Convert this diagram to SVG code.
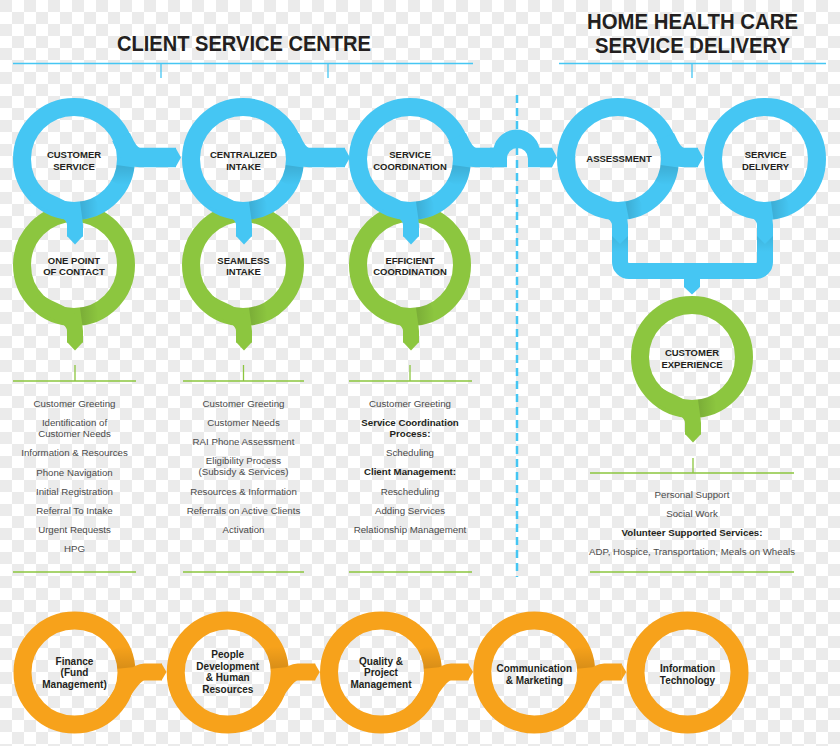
<svg xmlns="http://www.w3.org/2000/svg" width="840" height="746" viewBox="0 0 840 746">
<defs>
<pattern id="chk" width="24" height="24" patternUnits="userSpaceOnUse">
<rect width="24" height="24" fill="#ffffff"/>
<rect width="12" height="12" fill="#ebebeb"/>
<rect x="12" y="12" width="12" height="12" fill="#ebebeb"/>
</pattern>
<linearGradient id="shB" x1="0" y1="0" x2="0" y2="1"><stop offset="0" stop-color="#000" stop-opacity="0.12"/><stop offset="1" stop-color="#000" stop-opacity="0"/></linearGradient>
<linearGradient id="shT" x1="0" y1="0" x2="1" y2="0"><stop offset="0" stop-color="#000" stop-opacity="0.12"/><stop offset="1" stop-color="#000" stop-opacity="0"/></linearGradient>
<linearGradient id="shO" x1="0" y1="1" x2="0" y2="0"><stop offset="0" stop-color="#000" stop-opacity="0.12"/><stop offset="1" stop-color="#000" stop-opacity="0"/></linearGradient>
<linearGradient id="shV" x1="0" y1="0" x2="0" y2="1"><stop offset="0" stop-color="#000" stop-opacity="0.09"/><stop offset="1" stop-color="#000" stop-opacity="0"/></linearGradient>
<style>
.rb{fill:none;stroke:#45c6f3;stroke-width:18}
.rg{fill:none;stroke:#8cc63f;stroke-width:18}
.ro{fill:none;stroke:#f7a21b;stroke-width:18}
.sh{fill:none;stroke-width:18}
.bb{fill:none;stroke:#45c6f3;stroke-width:19.5}
.tb{fill:none;stroke:#45c6f3;stroke-width:16}
.tg{fill:none;stroke:#8cc63f;stroke-width:16}
.bo{fill:none;stroke:#f7a21b;stroke-width:17}
.fb{fill:#45c6f3}
.fg{fill:#8cc63f}
.fo{fill:#f7a21b}
.lbl{font-family:"Liberation Sans",Arial,sans-serif;font-weight:bold;font-size:9.5px;fill:#231f20;text-anchor:middle}
.olbl{font-family:"Liberation Sans",Arial,sans-serif;font-weight:bold;font-size:10px;fill:#231f20;text-anchor:middle}
.lst{font-family:"Liberation Sans",Arial,sans-serif;font-size:9.7px;fill:#4a4a4a;text-anchor:middle}
.lstb{font-weight:bold;fill:#231f20}
.ttl{font-family:"Liberation Sans",Arial,sans-serif;font-weight:bold;font-size:21.5px;fill:#231f20;text-anchor:middle}
.hl{stroke:#45c6f3;stroke-width:1.3;fill:none}
.gl{stroke:#8cc63f;stroke-width:1.3;fill:none}
</style>
</defs>
<rect width="840" height="746" fill="url(#chk)"/>

<g id="headers">
<text class="ttl" x="244" y="51" textLength="254" lengthAdjust="spacingAndGlyphs">CLIENT SERVICE CENTRE</text>
<text class="ttl" x="692.5" y="28.5" textLength="211" lengthAdjust="spacingAndGlyphs">HOME HEALTH CARE</text>
<text class="ttl" x="692.5" y="52.5" textLength="195" lengthAdjust="spacingAndGlyphs">SERVICE DELIVERY</text>
<path class="hl" d="M13,63.5 H473 M161,63.5 V78 M328,63.5 V78 M559,63.5 H826 M692,63.5 V78"/>
</g>

<line x1="517" y1="95" x2="517" y2="577" stroke="#45c6f3" stroke-width="2.5" stroke-dasharray="8,5"/>

<!-- green nodes -->
<g id="one-point-of-contact">
<circle class="rg" cx="74" cy="265" r="52"/>
<path class="sh" stroke="url(#shT)" d="M81.2,316.5 A52,52 0 0 0 98.4,310.9"/>
<text class="lbl" x="74" y="263.5">ONE POINT</text>
<text class="lbl" x="74" y="275">OF CONTACT</text>
</g>
<g id="seamless-intake">
<circle class="rg" cx="243" cy="265" r="52"/>
<path class="sh" stroke="url(#shT)" d="M250.2,316.5 A52,52 0 0 0 267.4,310.9"/>
<text class="lbl" x="243.5" y="263.5">SEAMLESS</text>
<text class="lbl" x="243.5" y="275">INTAKE</text>
</g>
<g id="efficient-coordination">
<circle class="rg" cx="410" cy="265" r="52"/>
<path class="sh" stroke="url(#shT)" d="M417.2,316.5 A52,52 0 0 0 434.4,310.9"/>
<text class="lbl" x="410" y="263.5">EFFICIENT</text>
<text class="lbl" x="410" y="275">COORDINATION</text>
</g>
<g id="customer-experience">
<circle class="rg" cx="692" cy="357" r="52"/>
<path class="sh" stroke="url(#shT)" d="M699.2,408.5 A52,52 0 0 0 716.4,402.9"/>
<text class="lbl" x="692" y="355.5">CUSTOMER</text>
<text class="lbl" x="692" y="367.5">EXPERIENCE</text>
</g>

<!-- blue nodes -->
<g id="customer-service">
<circle class="rb" cx="74" cy="159" r="52"/>
<path class="sh" stroke="url(#shB)" d="M125.5,166.2 A52,52 0 0 1 119,185"/>
<path class="sh" stroke="url(#shT)" d="M81.2,210.5 A52,52 0 0 0 98.4,204.9"/>
<text class="lbl" x="74" y="157.5">CUSTOMER</text>
<text class="lbl" x="74" y="169.5">SERVICE</text>
</g>
<g id="centralized-intake">
<circle class="rb" cx="243" cy="159" r="52"/>
<path class="sh" stroke="url(#shB)" d="M294.5,166.2 A52,52 0 0 1 288,185"/>
<path class="sh" stroke="url(#shT)" d="M250.2,210.5 A52,52 0 0 0 267.4,204.9"/>
<text class="lbl" x="243.5" y="157.5">CENTRALIZED</text>
<text class="lbl" x="243.5" y="169.5">INTAKE</text>
</g>
<g id="service-coordination">
<circle class="rb" cx="410" cy="159" r="52"/>
<path class="sh" stroke="url(#shB)" d="M461.5,166.2 A52,52 0 0 1 455,185"/>
<path class="sh" stroke="url(#shT)" d="M417.2,210.5 A52,52 0 0 0 434.4,204.9"/>
<text class="lbl" x="410" y="157.5">SERVICE</text>
<text class="lbl" x="410" y="169.5">COORDINATION</text>
</g>
<g id="assessment">
<circle class="rb" cx="618" cy="159" r="52"/>
<path class="sh" stroke="url(#shB)" d="M669.5,166.2 A52,52 0 0 1 663,185"/>
<path class="sh" stroke="url(#shT)" d="M627.2,210.5 A52,52 0 0 0 642.4,204.9"/>
<text class="lbl" x="619" y="161.5">ASSESSMENT</text>
</g>
<g id="service-delivery">
<circle class="rb" cx="765" cy="159" r="52"/>
<path class="sh" stroke="url(#shT)" d="M772.2,210.5 A52,52 0 0 0 789.4,204.9"/>
<text class="lbl" x="765.5" y="157.5">SERVICE</text>
<text class="lbl" x="765.5" y="169.5">DELIVERY</text>
</g>

<!-- orange nodes -->
<g id="finance">
<circle class="ro" cx="74.5" cy="672.5" r="52"/>
<path class="sh" stroke="url(#shO)" d="M119.5,646.5 A52,52 0 0 1 126.3,667.9"/>
<text class="olbl" x="74.5" y="664.5">Finance</text>
<text class="olbl" x="74.5" y="676">(Fund</text>
<text class="olbl" x="74.5" y="687.5">Management)</text>
</g>
<g id="people-development">
<circle class="ro" cx="227.75" cy="672.5" r="52"/>
<path class="sh" stroke="url(#shO)" d="M272.75,646.5 A52,52 0 0 1 279.55,667.9"/>
<text class="olbl" x="227.75" y="657.5">People</text>
<text class="olbl" x="227.75" y="669.5">Development</text>
<text class="olbl" x="227.75" y="680.5">&amp; Human</text>
<text class="olbl" x="227.75" y="692.5">Resources</text>
</g>
<g id="quality-project-management">
<circle class="ro" cx="381" cy="672.5" r="52"/>
<path class="sh" stroke="url(#shO)" d="M426,646.5 A52,52 0 0 1 432.8,667.9"/>
<text class="olbl" x="381" y="664.5">Quality &amp;</text>
<text class="olbl" x="381" y="676">Project</text>
<text class="olbl" x="381" y="687.5">Management</text>
</g>
<g id="communication-marketing">
<circle class="ro" cx="534.25" cy="672.5" r="52"/>
<path class="sh" stroke="url(#shO)" d="M579.25,646.5 A52,52 0 0 1 586.05,667.9"/>
<text class="olbl" x="534.25" y="671.5">Communication</text>
<text class="olbl" x="534.25" y="683.5">&amp; Marketing</text>
</g>
<g id="information-technology">
<circle class="ro" cx="687.5" cy="672.5" r="52"/>
<text class="olbl" x="687.5" y="671.5">Information</text>
<text class="olbl" x="687.5" y="683.5">Technology</text>
</g>

<g id="connectors">
<!-- blue horizontal bands -->
<path class="bb" d="M121.1,137 C124.9,145.2 129,157.5 140,157.5 L176,157.5"/>
<polygon class="fb" points="175.5,147.75 181,157.5 175.5,167.25"/>
<path class="bb" d="M290.1,137 C293.9,145.2 298,157.5 309,157.5 L345,157.5"/>
<polygon class="fb" points="344.5,147.75 350,157.5 344.5,167.25"/>
<path class="bb" d="M457.1,137 C460.9,145.2 465,157.5 476,157.5 L494,157.5"/>
<path class="fb" d="M490,147.75 L493.6,147.75 A23.5,23.5 0 0 1 539.4,147.75 L552,147.75 L557,157.5 L552,167.25 L528,167.25 L528,158.5 A10.5,10.5 0 0 0 507,158.5 L507,167.25 L490,167.25 Z"/>
<path class="bb" d="M665.1,137 C668.9,145.2 673,157.5 684,157.5 L698,157.5"/>
<polygon class="fb" points="697.5,147.75 703,157.5 697.5,167.25"/>
<!-- blue tails into green -->
<path class="tb" d="M34.2,192.4 C44.5,204.7 75,207 75,225 L75,236.5"/>
<polygon class="fb" points="67,236 75,244.5 83,236"/>
<path class="tb" d="M203.2,192.4 C213.5,204.7 244,207 244,225 L244,236.5"/>
<polygon class="fb" points="236,236 244,244.5 252,236"/>
<path class="tb" d="M370.2,192.4 C380.5,204.7 411,207 411,225 L411,236.5"/>
<polygon class="fb" points="403,236 411,244.5 419,236"/>
<!-- assessment / delivery to customer experience -->
<path class="tb" d="M578.2,192.4 C588.5,204.7 620,207 620,225 L620,245"/>
<path class="tb" d="M725.2,192.4 C735.5,204.7 765,207 765,225 L765,245"/>
<path class="tb" d="M620,240 L620,262 A9,9 0 0 0 629,271 L756,271 A9,9 0 0 0 765,262 L765,240"/>
<path fill="url(#shV)" d="M612,236 L620,244 L628,236 L628,252 L612,252 Z"/>
<path fill="url(#shV)" d="M757,236 L765,244 L773,236 L773,252 L757,252 Z"/>
<polygon class="fb" points="684,277 700,277 700,287 692,294.5 684,287"/>
<!-- green tails -->
<path class="tg" d="M34.2,298.4 C44.5,310.7 75,313 75,331 L75,342.5"/>
<polygon class="fg" points="67,342 75,350.5 83,342"/>
<path class="tg" d="M203.2,298.4 C213.5,310.7 244,313 244,331 L244,342.5"/>
<polygon class="fg" points="236,342 244,350.5 252,342"/>
<path class="tg" d="M370.2,298.4 C380.5,310.7 411,313 411,331 L411,342.5"/>
<polygon class="fg" points="403,342 411,350.5 419,342"/>
<path class="tg" d="M652.2,390.4 C662.5,402.7 693,405 693,423 L693,434.5"/>
<polygon class="fg" points="685,434 693,442.5 701,434"/>
<!-- orange bands -->
<path class="bo" d="M107.9,712.3 C118.6,703.3 130.5,672 144.5,672 L162,672"/>
<polygon class="fo" points="161.5,663.5 166.5,672 161.5,680.5"/>
<path class="bo" d="M261.15,712.3 C271.85,703.3 283.75,672 297.75,672 L315.25,672"/>
<polygon class="fo" points="314.75,663.5 319.75,672 314.75,680.5"/>
<path class="bo" d="M414.4,712.3 C425.1,703.3 437,672 451,672 L468.5,672"/>
<polygon class="fo" points="468,663.5 473,672 468,680.5"/>
<path class="bo" d="M567.65,712.3 C578.35,703.3 590.25,672 604.25,672 L621.75,672"/>
<polygon class="fo" points="621.25,663.5 626.25,672 621.25,680.5"/>
</g>

<g id="list-one-point-of-contact">
<path class="gl" d="M75,365 V381 M13,381 H136 M13,572 H136"/>
<text class="lst" x="74.5" y="406.5">Customer Greeting</text>
<text class="lst" x="74.5" y="425.5">Identification of</text>
<text class="lst" x="74.5" y="436.5">Customer Needs</text>
<text class="lst" x="74.5" y="456">Information &amp; Resources</text>
<text class="lst" x="74.5" y="475.5">Phone Navigation</text>
<text class="lst" x="74.5" y="494.5">Initial Registration</text>
<text class="lst" x="74.5" y="513.5">Referral To Intake</text>
<text class="lst" x="74.5" y="532.5">Urgent Requests</text>
<text class="lst" x="74.5" y="551.5">HPG</text>
</g>
<g id="list-seamless-intake">
<path class="gl" d="M243.5,365 V381 M183,381 H304 M183,572 H304"/>
<text class="lst" x="243.5" y="406.5">Customer Greeting</text>
<text class="lst" x="243.5" y="425.5">Customer Needs</text>
<text class="lst" x="243.5" y="444.5">RAI Phone Assessment</text>
<text class="lst" x="243.5" y="463.5">Eligibility Process</text>
<text class="lst" x="243.5" y="475">(Subsidy &amp; Services)</text>
<text class="lst" x="243.5" y="494.5">Resources &amp; Information</text>
<text class="lst" x="243.5" y="513.5">Referrals on Active Clients</text>
<text class="lst" x="243.5" y="532.5">Activation</text>
</g>
<g id="list-efficient-coordination">
<path class="gl" d="M410,365 V381 M349,381 H472 M349,572 H472"/>
<text class="lst" x="410" y="406.5">Customer Greeting</text>
<text class="lst lstb" x="410" y="425.5">Service Coordination</text>
<text class="lst lstb" x="410" y="436.5">Process:</text>
<text class="lst" x="410" y="456">Scheduling</text>
<text class="lst lstb" x="410" y="475">Client Management:</text>
<text class="lst" x="410" y="494.5">Rescheduling</text>
<text class="lst" x="410" y="513.5">Adding Services</text>
<text class="lst" x="410" y="532.5">Relationship Management</text>
</g>
<g id="list-customer-experience">
<path class="gl" d="M693,458 V473 M590,473 H794 M590,572 H794"/>
<text class="lst" x="692" y="497.5">Personal Support</text>
<text class="lst" x="692" y="516.5">Social Work</text>
<text class="lst lstb" x="692" y="536">Volunteer Supported Services:</text>
<text class="lst" x="692" y="554.5">ADP, Hospice, Transportation, Meals on Wheals</text>
</g>
</svg>
